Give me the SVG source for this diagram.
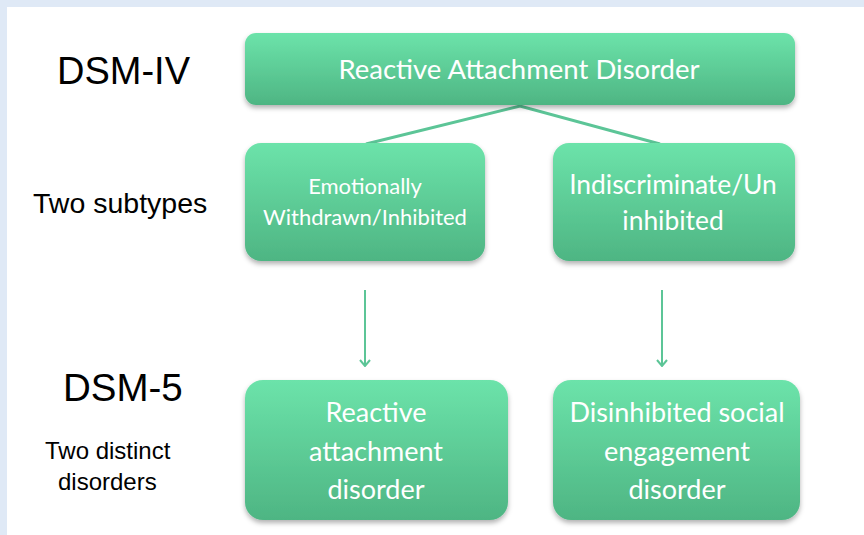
<svg xmlns="http://www.w3.org/2000/svg" width="864" height="535" viewBox="0 0 864 535">
<defs>
<linearGradient id="g" x1="0" y1="0" x2="0" y2="1">
<stop offset="0" stop-color="#6ce3aa"/>
<stop offset="1" stop-color="#4eb583"/>
</linearGradient>
<filter id="sh" x="-10%" y="-10%" width="120%" height="130%">
<feDropShadow dx="0" dy="3" stdDeviation="2.5" flood-color="#000" flood-opacity="0.3"/>
</filter>
<marker id="ah" viewBox="0 0 12 12" refX="11" refY="6" markerWidth="12" markerHeight="12" markerUnits="userSpaceOnUse" orient="auto">
<path d="M5,1 L11,6 L5,11" fill="none" stroke="#5cc597" stroke-width="2"/>
</marker>
</defs>
<style>
.box{fill:url(#g);filter:url(#sh)}
.bt{font-family:Lato,"Open Sans","Liberation Sans",sans-serif;fill:#ffffff;text-anchor:middle}
.lab{font-family:"Liberation Sans",Arial,sans-serif;fill:#000000}
.con{stroke:#5cc597;stroke-width:3;fill:none}
.arr{stroke:#5cc597;stroke-width:2;fill:none}
</style>
<rect x="0" y="0" width="864" height="535" fill="#dfe9f6"/>
<rect x="7" y="7" width="857" height="528" fill="#ffffff"/>

<g id="labels">
<text class="lab" x="57" y="84" font-size="38">DSM-IV</text>
<text class="lab" x="33" y="213" font-size="28.5">Two subtypes</text>
<text class="lab" x="63" y="401" font-size="38.5">DSM-5</text>
<text class="lab" x="45" y="459" font-size="24">Two distinct</text>
<text class="lab" x="58" y="490" font-size="24">disorders</text>
</g>

<g id="connectors">
<polyline class="con" points="366,144 520,106 660,144"/>
<line class="arr" x1="365" y1="290" x2="365" y2="366" marker-end="url(#ah)"/>
<line class="arr" x1="662" y1="290" x2="662" y2="366" marker-end="url(#ah)"/>
</g>

<g id="rad4">
<rect class="box" x="245" y="33" width="550" height="72" rx="11"/>
<text class="bt" x="519" y="79" font-size="27.5">Reactive Attachment Disorder</text>
</g>

<g id="withdrawn">
<rect class="box" x="245" y="143" width="240" height="118" rx="16"/>
<text class="bt" x="365" y="194" font-size="22">Emotionally</text>
<text class="bt" x="365" y="225" font-size="22">Withdrawn/Inhibited</text>
</g>

<g id="indiscriminate">
<rect class="box" x="553" y="143" width="242" height="118" rx="16"/>
<text class="bt" x="673" y="194" font-size="26.4">Indiscriminate/Un</text>
<text class="bt" x="673" y="230" font-size="26.4">inhibited</text>
</g>

<g id="rad5">
<rect class="box" x="245" y="380" width="263" height="140" rx="18"/>
<text class="bt" x="376" y="422" font-size="27">Reactive</text>
<text class="bt" x="376" y="461" font-size="27">attachment</text>
<text class="bt" x="376" y="499" font-size="27">disorder</text>
</g>

<g id="dsed">
<rect class="box" x="553" y="380" width="247" height="140" rx="18"/>
<text class="bt" x="677" y="422" font-size="27">Disinhibited social</text>
<text class="bt" x="677" y="461" font-size="27">engagement</text>
<text class="bt" x="677" y="499" font-size="27">disorder</text>
</g>
</svg>
